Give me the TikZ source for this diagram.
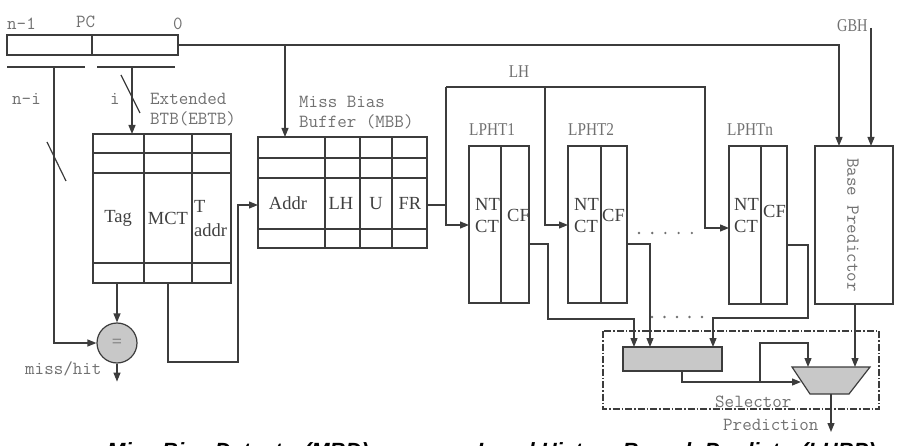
\documentclass[tikz,border=0pt]{standalone}
\usepackage{fontspec}
\setmainfont{Liberation Serif}
\setsansfont{Liberation Sans}
\usetikzlibrary{arrows.meta,calc}
\definecolor{ln}{HTML}{3C3C3C}
\definecolor{tx}{HTML}{707070}
\definecolor{stx}{HTML}{404040}
\definecolor{gfill}{HTML}{C8C8C8}
\begin{document}
\begin{tikzpicture}[x=1pt,y=-1pt,
  wire/.style={draw=ln, line width=1.2pt},
  arr/.style={wire, -{Triangle[length=9pt,width=7pt]}},
  tbl/.style={draw=ln, line width=1.3pt, inner sep=0pt, outer sep=0pt},
  grid/.style={draw=ln, line width=1.2pt},
  mono/.style={font=\ttfamily\fontsize{18.5}{18.5}\selectfont, text=tx, inner sep=0pt},
  lab/.style={font=\fontsize{18}{18}\selectfont, text=tx, inner sep=0pt},
  serif/.style={font=\fontsize{18.5}{18.5}\selectfont, text=stx, inner sep=0pt},
  bold/.style={font=\sffamily\bfseries\itshape\fontsize{22}{22}\selectfont, text=black, inner sep=0pt}
]
\useasboundingbox (0,0) rectangle (902,446);
\clip (0,0) rectangle (902,446);

% PC register
\node[tbl, anchor=north west, minimum width=171pt, minimum height=20pt] (pc) at (7,35) {};
\draw[grid] (92,35) -- (92,55);
\node[mono, anchor=base west] (n1) at (7,30) {n-1};
\node[mono, anchor=base west] (pclab) at (76,28) {PC};
\node[mono, anchor=base west] (zero) at (173,30) {0};
\draw[wire, line width=1.6pt] (7,67) -- (85,67);
\draw[wire, line width=1.6pt] (97,67) -- (175,67);
\coordinate (ni) at (54,67);
\coordinate (ii) at (132,67);
\node[mono, anchor=base west] (nilab) at (12,105) {n-i};
\node[mono, anchor=base west] (ilab) at (110,105) {i};

% EBTB
\node[tbl, anchor=north west, minimum width=138pt, minimum height=149pt] (ebtb) at (93,134) {};
\foreach \yy in {153,173,263} \draw[grid] (93,\yy) -- (231,\yy);
\foreach \xx in {144,192} \draw[grid] (\xx,134) -- (\xx,283);
\node[mono, anchor=base west] (ext) at (150,105) {Extended};
\node[mono, anchor=base west] (btb) at (150,125) {BTB(EBTB)};
\node[serif] (tag) at (118,218) {Tag};
\node[serif] (mct) at (168,218) {MCT};
\node[serif, anchor=base west] (tt) at (194,213) {T};
\node[serif, anchor=base west] (taddr) at (194,237) {addr};

% comparator
\node[circle, draw=ln, line width=1.2pt, fill=gfill, minimum size=40pt, inner sep=0pt] (eq) at (117,343) {};
\node[font=\fontsize{18}{18}\selectfont, text=tx] at (eq) {=};
\node[mono, anchor=base west] (mh) at (25,374) {miss/hit};

% MBB
\node[tbl, anchor=north west, minimum width=169pt, minimum height=111pt] (mbb) at (258,137) {};
\foreach \yy in {158,178,229} \draw[grid] (258,\yy) -- (427,\yy);
\foreach \xx in {325,360,392} \draw[grid] (\xx,137) -- (\xx,248);
\node[mono, anchor=base west] (mbb1) at (299,108) {Miss Bias};
\node[mono, anchor=base west] (mbb2) at (299,128) {Buffer (MBB)};
\node[serif, anchor=base] (addr) at (288,210) {Addr};
\node[serif, anchor=base] (lhc) at (341,210) {LH};
\node[serif, anchor=base] (uc) at (376,210) {U};
\node[serif, anchor=base] (frc) at (410,210) {FR};

% LPHT tables
\node[tbl, anchor=north west, minimum width=60pt, minimum height=157pt] (l1) at (469,146) {};
\draw[grid] (501,146) -- (501,303);
\node[tbl, anchor=north west, minimum width=59pt, minimum height=157pt] (l2) at (568,146) {};
\draw[grid] (601,146) -- (601,303);
\node[tbl, anchor=north west, minimum width=58pt, minimum height=158pt] (ln) at (729,146) {};
\draw[grid] (761,146) -- (761,304);
\node[lab, anchor=base west] at (469,136) {\scalebox{0.85}[1]{LPHT1}};
\node[lab, anchor=base west] at (568,136) {\scalebox{0.85}[1]{LPHT2}};
\node[lab, anchor=base west] at (727,136) {\scalebox{0.85}[1]{LPHTn}};
\foreach \nx/\cx/\cy in {475/507/222, 574/602/222, 734/763/218}{
  \node[serif, anchor=base west] at (\nx,211) {NT};
  \node[serif, anchor=base west] at (\nx,233) {CT};
  \node[serif, anchor=base west] at (\cx,\cy) {CF};
}
\node[lab, anchor=base] (lhlab) at (519,78) {\scalebox{0.85}[1]{LH}};

% Base predictor
\node[tbl, anchor=north west, minimum width=78pt, minimum height=158pt] (base) at (815,146) {};
\node[mono, rotate=-90] (bp) at (853,225) {Base Predictor};
\node[lab, anchor=base west] (gbh) at (837,32) {\scalebox{0.8}[1]{GBH}};

% selector
\draw[draw=ln, line width=1.2pt, dash pattern=on 7pt off 2pt on 1.5pt off 2pt] (603,331) rectangle (879,409);
\node[tbl, fill=gfill, anchor=north west, minimum width=99pt, minimum height=24pt] (sel) at (623,347) {};
\coordinate (mtl) at (792,367); \coordinate (mtr) at (870,367);
\coordinate (mbr) at (849,394); \coordinate (mbl) at (810,394);
\draw[draw=ln, line width=1.2pt, fill=gfill] (mtl) -- (mtr) -- (mbr) -- (mbl) -- cycle;
\node[mono, anchor=base west] (sellab) at (715,407) {Selector};
\node[mono, anchor=base west] (pred) at (723,430) {Prediction};

% dots
\foreach \i in {0,...,4} \fill[tx] (639+13.2*\i,233) circle (1.3pt);
\foreach \i in {0,...,4} \fill[tx] (652+12.5*\i,317) circle (1.3pt);

% connectors
\coordinate (gx) at (839,146);
\draw[arr] (pc.east) -| (gx);
\coordinate (br) at (285,45);
\draw[arr] (br) -- (br |- mbb.north);
\coordinate (gbhtop) at (871,28);
\draw[arr] (gbhtop) -- (gbhtop |- base.north);
\draw[arr] (ni) |- (eq.west);
\draw[wire] (47,142) -- (66,181);
\draw[arr] (ii) -- (ii |- ebtb.north);
\draw[wire] (121,75) -- (140,113);
\draw[arr] (eq.north |- ebtb.south) -- (eq.north);
\draw[arr] (eq.south) -- ++(0,18);
\coordinate (mbbin) at (258,205);
\draw[arr] (168,283) -- (168,362) -- (238,362) -- (238,205) -- (mbbin);
\coordinate (fr) at (427,205);
\coordinate (lha) at (446,87);
\coordinate (lhb) at (545,87);
\coordinate (lhc2) at (705,87);
\draw[wire] (fr) -- (lha |- fr);
\draw[arr] (lha) |- (l1.west |- 0,225);
\draw[arr] (lhb) |- (l2.west |- 0,225);
\draw[arr] (lha) -- (lhc2) |- (ln.west |- 0,228);
\draw[arr] (l1.east |- 0,244) -- (548,244) -- (548,319) -- (634,319) -- (634,347);
\draw[arr] (l2.east |- 0,244) -- (650,244) -- (650,347);
\draw[arr] (ln.east |- 0,245) -- (808,245) -- (808,318) -- (713,318) -- (713,347);
\draw[arr] (855,304) -- (855,367);
\draw[arr] (682,371) -- (682,382) -- (801,382);
\draw[arr] (760,382) -- (760,343) -- (808,343) -- (808,367);
\draw[arr] (831,394) -- (831,432);

% bottom captions (cut by page edge)
\node[bold, anchor=base west] (mbd) at (107,458) {Miss Bias Detector(MBD)};
\node[bold, anchor=base west] (lhbp) at (477,458) {Local History Branch Predictor(LHBP)};
\end{tikzpicture}
\end{document}
